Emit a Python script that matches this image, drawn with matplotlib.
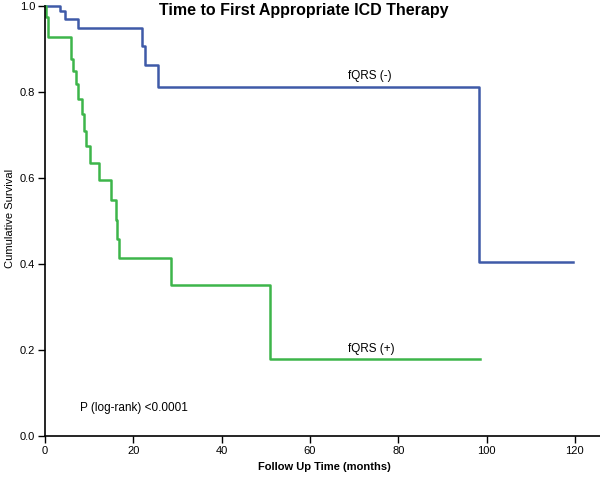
import matplotlib.pyplot as plt
import numpy as np

plt.rcParams['font.family'] = ['Liberation Sans', 'DejaVu Sans']

# fQRS (-) group, step points (months, survival)
neg_time = [0, 3.4, 4.5, 7.5, 22.0, 22.6, 25.6, 98.3, 119.5]
neg_surv = [1.0, 0.989, 0.970, 0.949, 0.906, 0.862, 0.811, 0.405, 0.405]

# fQRS (+) group
pos_time = [0, 0.2, 0.7, 5.9, 6.3, 7.0, 7.5, 8.4, 8.8, 9.3, 10.2, 12.2,
            14.9, 16.1, 16.3, 16.8, 28.5, 50.9, 98.5]
pos_surv = [1.0, 0.975, 0.929, 0.876, 0.848, 0.818, 0.784, 0.749, 0.710,
            0.674, 0.634, 0.595, 0.549, 0.503, 0.457, 0.414, 0.352, 0.179, 0.179]

x_ticks = [0, 20, 40, 60, 80, 100, 120]
y_ticks = [0.0, 0.2, 0.4, 0.6, 0.8, 1.0]

fig = plt.figure(figsize=(6, 4.78), dpi=100)
ax = fig.add_axes([45/600, 1-436/478, 555/600, 430/478])

ax.step(neg_time, neg_surv, where='post', color='#3F5AA8', lw=1.8, clip_on=False)
ax.step(pos_time, pos_surv, where='post', color='#3DB54A', lw=1.8, clip_on=False)

ax.set_xlim(0, 125.7)
ax.set_ylim(0, 1.0)
ax.set_xticks(x_ticks)
ax.set_xticklabels([str(t) for t in x_ticks], fontsize=8)
ax.set_yticks(y_ticks)
ax.set_yticklabels(['%.1f' % t for t in y_ticks], fontsize=8)
ax.tick_params(axis='both', direction='out', length=5, width=1, pad=2)

for s in ['top', 'right']:
    ax.spines[s].set_visible(False)
for s in ['left', 'bottom']:
    ax.spines[s].set_linewidth(1.2)

ax.text(73.6, 0.837, 'fQRS (-)', fontsize=8.5, ha='center', va='center')
ax.text(73.8, 0.202, 'fQRS (+)', fontsize=8.5, ha='center', va='center')
ax.text(7.9, 0.064, 'P (log-rank) <0.0001', fontsize=8.5, ha='left', va='center')

fig.text(304/600, 1-10/478, 'Time to First Appropriate ICD Therapy',
         fontsize=11.5, fontweight='bold', ha='center', va='center')
fig.text(324/600, 1-467/478, 'Follow Up Time (months)',
         fontsize=8, fontweight='bold', ha='center', va='center')
fig.text(10/600, 1-218/478, 'Cumulative Survival',
         fontsize=8, rotation=90, ha='center', va='center')

fig.savefig('out.png', dpi=100)
